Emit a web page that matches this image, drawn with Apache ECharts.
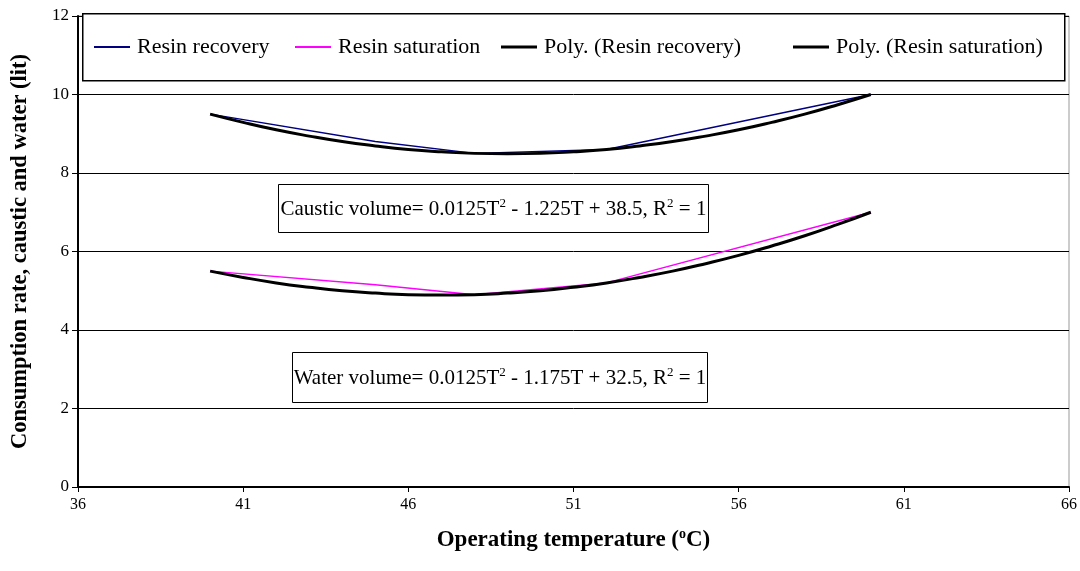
<!DOCTYPE html>
<html>
<head>
<meta charset="utf-8">
<script src="https://cdn.jsdelivr.net/npm/echarts@6/dist/echarts.min.js"></script>
<style>
  html, body { margin: 0; padding: 0; background: #fff; }
  #chart { width: 1080px; height: 571px; }
</style>
</head>
<body>
<div id="chart"></div>
<script>
// measured points (operating temperature, degC)
const tempData = [40, 45, 48, 52, 60];
const recoveryData = [9.5, 8.8, 8.5, 8.6, 10];
const saturationData = [5.5, 5.15, 4.9, 5.2, 7];

// trendline readings, one per degree
const trendTemp = [40, 41, 42, 43, 44, 45, 46, 47, 48, 49, 50, 51, 52, 53, 54, 55, 56, 57, 58, 59, 60];
const recoveryTrend = [9.5, 9.29, 9.1, 8.94, 8.8, 8.69, 8.6, 8.54, 8.5, 8.49, 8.5, 8.54, 8.6, 8.69, 8.8, 8.94, 9.1, 9.29, 9.5, 9.74, 10];
const saturationTrend = [5.5, 5.34, 5.2, 5.09, 5.0, 4.94, 4.9, 4.89, 4.9, 4.94, 5.0, 5.09, 5.2, 5.34, 5.5, 5.69, 5.9, 6.14, 6.4, 6.69, 7.0];

const seriesNames = ["Resin recovery", "Resin saturation", "Poly. (Resin recovery)", "Poly. (Resin saturation)"];

const font = "'Liberation Serif', 'Times New Roman', serif";

function pairs(xs, ys) {
  return xs.map((x, i) => [x, ys[i]]);
}

const chart = echarts.init(document.getElementById("chart"));

const supRich = {
  t: { fontFamily: font, fontSize: 21, fill: "#000" },
  sup: { fontFamily: font, fontSize: 13, fill: "#000", padding: [0, 0, 11, 0] },
};

function eqBox(left, top, w, h, text) {
  return {
    type: "group",
    left: left,
    top: top,
    z: 5,
    children: [
      {
        type: "rect",
        shape: { x: 0, y: 0, width: w, height: h },
        style: { fill: "#fff", stroke: "#000", lineWidth: 1 },
      },
      {
        type: "text",
        x: w / 2,
        y: h / 2 + 1,
        style: { text: text, rich: supRich, align: "center", verticalAlign: "middle" },
      },
    ],
  };
}

// one legend per entry so each sits where the reference puts it
const legendLeft = [94, 295, 501, 793];
const legendThick = [2, 2, 3, 3];
const legends = seriesNames.map((name, i) => ({
  z: 20,
  left: legendLeft[i],
  top: 36,
  icon: "rect",
  itemWidth: 36,
  itemHeight: legendThick[i],
  padding: 0,
  selectedMode: false,
  textStyle: { fontFamily: font, fontSize: 22, color: "#000", padding: [0, 0, 0, 2] },
  data: [name],
}));

chart.setOption({
  animation: false,
  backgroundColor: "#fff",
  grid: {
    left: 78, right: 11, top: 16, bottom: 84,
    show: true, borderColor: "#999", borderWidth: 1,
  },
  legend: legends,
  xAxis: {
    type: "value",
    min: 36,
    max: 66,
    interval: 5,
    name: "{b|Operating temperature (}{sup|o}{b|C)}",
    nameLocation: "middle",
    nameGap: 40,
    nameTextStyle: {
      rich: {
        b: { fontFamily: font, fontSize: 23, fontWeight: "bold", color: "#000" },
        sup: { fontFamily: font, fontSize: 14, fontWeight: "bold", color: "#000", padding: [0, 0, 12, 0] },
      },
    },
    axisLine: { lineStyle: { color: "#000", width: 2 } },
    axisTick: { inside: false, length: 5, lineStyle: { color: "#000" } },
    axisLabel: { fontFamily: font, fontSize: 16, color: "#000", margin: 10 },
    splitLine: { show: false },
  },
  yAxis: {
    type: "value",
    min: 0,
    max: 12,
    interval: 2,
    name: "Consumption rate, caustic and water (lit)",
    nameLocation: "middle",
    nameGap: 46,
    nameTextStyle: { fontFamily: font, fontSize: 22.5, fontWeight: "bold", color: "#000" },
    axisLine: { show: true, lineStyle: { color: "#000", width: 2 } },
    axisTick: { show: true, length: 6, lineStyle: { color: "#000" } },
    axisLabel: { fontFamily: font, fontSize: 17, color: "#000", margin: 9 },
    splitLine: { lineStyle: { color: "#000", width: 1 } },
  },
  graphic: [
    {
      type: "rect",
      left: 82, top: 13, z: 5,
      shape: { width: 982, height: 67 },
      style: { fill: "#fff", stroke: "#000", lineWidth: 1.5 },
    },
    eqBox(278, 184, 430, 48, "{t|Caustic volume= 0.0125T}{sup|2}{t| - 1.225T + 38.5, R}{sup|2}{t| = 1}"),
    eqBox(292, 352, 415, 50, "{t|Water volume= 0.0125T}{sup|2}{t| - 1.175T + 32.5, R}{sup|2}{t| = 1}"),
  ],
  series: [
    {
      name: seriesNames[0],
      type: "line",
      symbol: "none",
      lineStyle: { color: "#000080", width: 1.5 },
      itemStyle: { color: "#000080" },
      data: pairs(tempData, recoveryData),
    },
    {
      name: seriesNames[1],
      type: "line",
      symbol: "none",
      lineStyle: { color: "#ff00ff", width: 1.5 },
      itemStyle: { color: "#ff00ff" },
      data: pairs(tempData, saturationData),
    },
    {
      name: seriesNames[2],
      type: "line",
      symbol: "none",
      smooth: true,
      lineStyle: { color: "#000", width: 3 },
      itemStyle: { color: "#000" },
      data: pairs(trendTemp, recoveryTrend),
    },
    {
      name: seriesNames[3],
      type: "line",
      symbol: "none",
      smooth: true,
      lineStyle: { color: "#000", width: 3 },
      itemStyle: { color: "#000" },
      data: pairs(trendTemp, saturationTrend),
    },
  ],
});
</script>
</body>
</html>
